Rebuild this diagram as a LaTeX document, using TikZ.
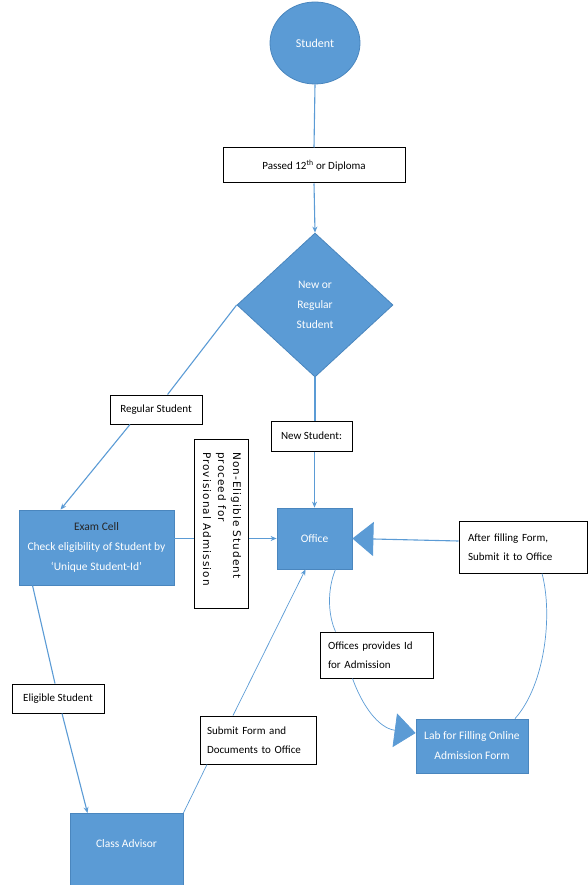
\documentclass[tikz,border=0pt]{standalone}
\usepackage{fontspec}
\setmainfont{Carlito}
\newfontfamily\rotfont[LetterSpace=10]{DejaVu Sans}
\usetikzlibrary{shapes.geometric,arrows.meta,calc}
\definecolor{bfill}{HTML}{5B9BD5}
\definecolor{bborder}{HTML}{4A86BE}
\definecolor{lcol}{HTML}{5B9BD5}
\begin{document}
\begin{tikzpicture}[x=1pt,y=-1pt,
  bluebox/.style={draw=bborder, fill=bfill, text=white, line width=0.8pt, inner sep=0pt, align=center, font=\fontsize{11.5}{20}\selectfont},
  wbox/.style={draw=black, fill=white, line width=1pt, inner sep=0pt, align=center, font=\fontsize{11}{19}\selectfont},
  lbox/.style={wbox, align=left},
  conn/.style={draw=lcol, line width=1.1pt},
  thin/.style={draw=lcol, line width=0.7pt},
  arr/.style={conn, -{Stealth[length=6pt,width=5pt]}},
  bigtip/.style={-{Triangle[length=21pt,width=34pt,fill=bfill,color=bfill]}}
]
\useasboundingbox (0,0) rectangle (587,885);

% nodes
\node[bluebox, ellipse, minimum width=90, minimum height=82, font=\fontsize{12}{14}\selectfont] (student) at (315,43) {Student};
\node[wbox, minimum width=182, minimum height=35] (passed) at (314,165.5) {Passed 12\textsuperscript{th} or Diploma};
\node[bluebox, diamond, minimum width=156, minimum height=144] (dia) at (315,305) {New or\\Regular\\Student};
\node[wbox, minimum width=92, minimum height=29] (reg) at (156,409.5) {Regular Student};
\node[wbox, minimum width=81, minimum height=30] (ns) at (311.5,436) {New Student:};
\node[bluebox, minimum width=155, minimum height=75] (exam) at (96.5,547.5) {\textcolor{black!85}{Exam Cell}\\Check eligibility of Student by\\`Unique Student-Id'};
\node[wbox, minimum width=54, minimum height=169] (neb) at (221,523.5) {};
\node[rotate=-90, align=left, font=\rotfont\fontsize{10.5}{15}\selectfont, inner sep=0pt] (nebt) at (222,519) {Non-Eligible Student\\proceed for\\Provisional Admission};
\node[bluebox, minimum width=75, minimum height=61] (office) at (314.5,538.5) {Office};
\node[lbox, minimum height=52, text width=110, inner xsep=9pt] (after) at (523,547) {After filling Form,\\Submit it to Office};
\node[lbox, minimum height=46, text width=97, inner xsep=8pt] (offices) at (376.5,655) {Offices provides Id\\for Admission};
\node[bluebox, minimum width=112, minimum height=54] (lab) at (472,746) {Lab for Filling Online\\Admission Form};
\node[wbox, minimum width=92, minimum height=29] (elig) at (58,698.5) {Eligible Student};
\node[lbox, minimum height=48, text width=102, inner xsep=7pt] (submit) at (258,740) {Submit Form and\\Documents to Office};
\node[bluebox, minimum width=113, minimum height=74, anchor=north] (cadv) at (126.5,813) {};
\node[text=white, font=\fontsize{11.5}{12}\selectfont] (cadvt) at (126.5,844) {Class Advisor};

% connectors
\draw[conn] (student.south) -- (passed.north);
\draw[arr] (passed.south) -- (dia.north);
\draw[conn] (dia.west) -- (reg);
\draw[arr] ($(reg.south)+(-26,0)$) -- ($(exam.north)+(-36,0)$);
\draw[conn] (dia.south) -- (dia.south |- ns.north);
\draw[arr] (ns.south -| office) -- (office.north);
\draw[conn] (exam.east |- office) -- (neb.west |- office);
\draw[arr] (neb.east |- office) -- (office.west);
\draw[conn, bigtip] ($(after.west)+(0,-6)$) -- (office.east);
\draw[thin] ($(after.south)+(19,0)$) .. controls (553,615) and (545,685) .. ($(lab.north)+(43,0)$);
\draw[thin] ($(office.south)+(21,0)$) .. controls (327,590) and (328,615) .. ($(offices.north)+(-41,0)$);
\draw[thin, bigtip] ($(offices.south)+(-24,0)$) .. controls (362,705) and (378,728) .. ($(lab.west)+(0,-13)$);
\draw[conn] ($(exam.south)+(-64,0)$) -- ($(elig.north)+(-3,0)$);
\draw[arr] ($(elig.south)+(4,0)$) -- ($(cadv.north)+(-39,0)$);
\draw[thin] (cadv.north east) -- ($(submit.south)+(-51,0)$);
\draw[thin, -{Stealth[length=6pt,width=5pt]}] ($(submit.north)+(-25,0)$) -- ($(office.south)+(-9,0)$);
\end{tikzpicture}
\end{document}
